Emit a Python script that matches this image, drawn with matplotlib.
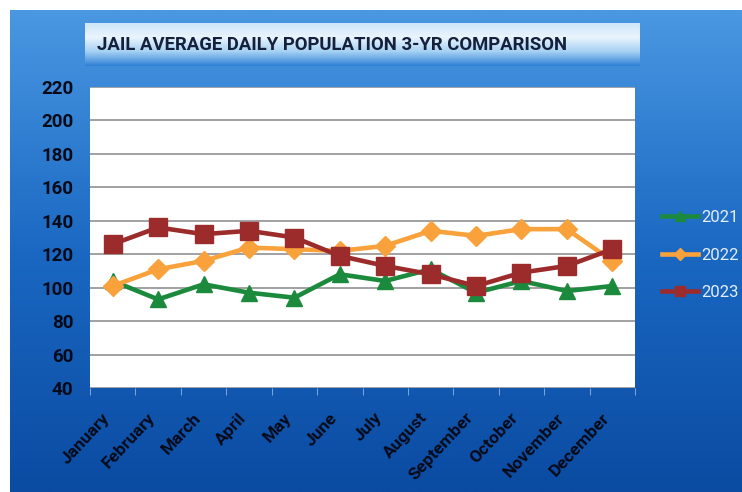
import numpy as np
import matplotlib
matplotlib.use('Agg')
import matplotlib.pyplot as plt
from matplotlib import font_manager
from matplotlib.colors import LinearSegmentedColormap

months = ['January', 'February', 'March', 'April', 'May', 'June', 'July',
          'August', 'September', 'October', 'November', 'December']
adp_2021 = [104, 93, 102, 97, 94, 108, 104, 111, 97, 104, 98, 101]
adp_2022 = [101, 111, 116, 124, 123, 122, 125, 134, 131, 135, 135, 116]
adp_2023 = [126, 136, 132, 134, 130, 119, 113, 108, 101, 109, 113, 123]
years = ['2021', '2022', '2023']
y_ticks = list(range(40, 221, 20))


def bold_family(candidates):
    # pierwsza rodzina, która ma prawdziwy krój pogrubiony
    for fam in candidates:
        try:
            path = font_manager.findfont(
                font_manager.FontProperties(family=fam, weight='bold'),
                fallback_to_default=False)
        except Exception:
            continue
        if 'bold' in path.lower():
            return fam
    return 'DejaVu Sans'


narrow = bold_family(['Liberation Sans Narrow', 'Roboto', 'Open Sans', 'Liberation Sans'])

W, H = 742, 492
fig = plt.figure(figsize=(W / 100, H / 100), dpi=100)
fig.patch.set_facecolor('white')

# tło - niebieski gradient
bg = fig.add_axes([10 / W, 0, 1 - 10 / W, 1 - 10 / H], zorder=-10)
bg_cmap = LinearSegmentedColormap.from_list('bg', ['#0b4ba2', '#1a68c2', '#4a98e2'])
bg.imshow(np.linspace(0, 1, 256).reshape(-1, 1), cmap=bg_cmap, aspect='auto',
          origin='lower', extent=[0, 1, 0, 1])
bg.set_axis_off()

# pasek tytułu
tb = fig.add_axes([85 / W, 1 - 66 / H, 555 / W, 43 / H], zorder=-5)
tb_cmap = LinearSegmentedColormap.from_list('tb', ['#2e7fd6', '#a4d0f3', '#eaf5fd', '#cde6f9'])
tb.imshow(np.linspace(0, 1, 256).reshape(-1, 1), cmap=tb_cmap, aspect='auto',
          origin='lower', extent=[0, 1, 0, 1])
tb.set_axis_off()
tb.text(0.022, 0.5, 'JAIL AVERAGE DAILY POPULATION 3-YR COMPARISON',
        transform=tb.transAxes, ha='left', va='center', fontsize=13.3,
        fontweight='bold', family=narrow, color='#14203c')

ax = fig.add_axes([90 / W, 1 - 388 / H, 545 / W, 301 / H])
ax.set_facecolor('white')
x = np.arange(len(months))

styles = [
    (adp_2021, '#1b8a3c', '^', 12),
    (adp_2022, '#f9a23c', 'D', 10),
    (adp_2023, '#9c2b2b', 's', 13),
]
handles = []
for (vals, col, mk, ms), yr in zip(styles, years):
    h, = ax.plot(x, vals, color=col, lw=3.3, marker=mk, markersize=ms,
                 markerfacecolor=col, markeredgecolor=col, label=yr, zorder=3)
    handles.append(h)

ax.set_xlim(-0.5, len(months) - 0.5)
ax.set_ylim(40, 220)
ax.set_yticks(y_ticks)
ax.yaxis.grid(True, color='#9a9a9a', lw=1.3)
ax.set_axisbelow(True)
for s in ax.spines.values():
    s.set_visible(False)

ax.set_xticks(x)
ax.set_xticks(np.arange(-0.5, len(months), 1), minor=True)
ax.set_xticklabels(months, rotation=47, ha='right', va='top',
                   fontweight='bold', family=narrow, fontsize=12.5, color='#050a18')
ax.tick_params(axis='x', which='major', length=0, pad=16)
ax.tick_params(axis='x', which='minor', length=5, color='#8db6e6')
ax.set_yticklabels([str(v) for v in y_ticks], fontweight='bold', family=narrow,
                   fontsize=13.5, color='#050a18')
ax.tick_params(axis='y', length=0, pad=12)

leg = fig.legend(handles=handles, loc='center left',
                 bbox_to_anchor=(655 / W, 1 - 255 / H), frameon=False,
                 handlelength=2.2, labelspacing=1.35, markerscale=0.6,
                 handletextpad=0.2, borderaxespad=0,
                 prop={'family': narrow, 'size': 12})
for t in leg.get_texts():
    t.set_color('#e4eefc')

fig.savefig('out.png', dpi=100)
